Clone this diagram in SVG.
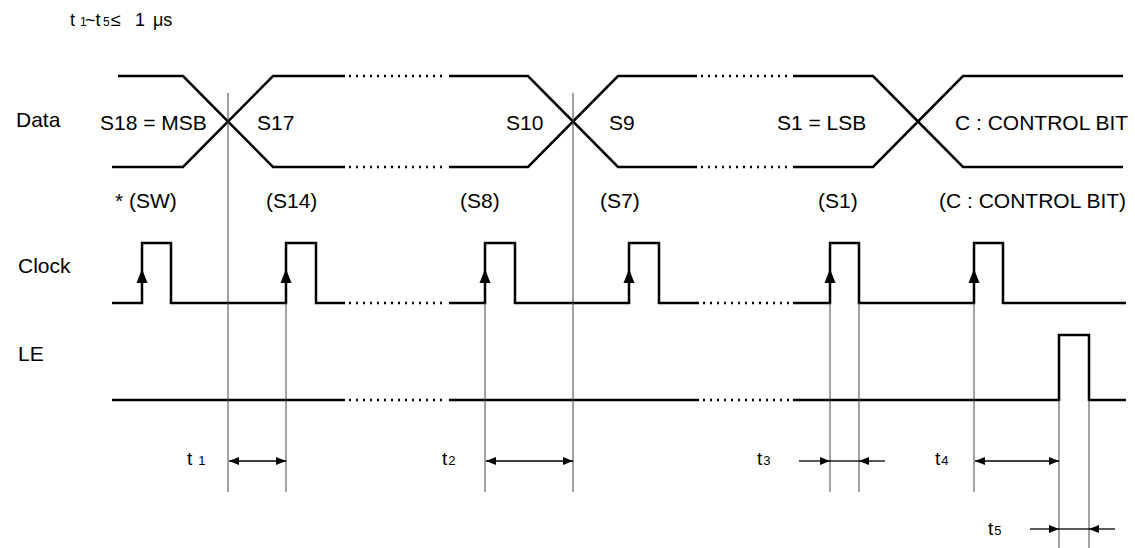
<svg xmlns="http://www.w3.org/2000/svg" width="1135" height="548" viewBox="0 0 1135 548">
<defs>
<style>
.w{fill:none;stroke:#000;stroke-width:2.5;stroke-linejoin:miter}
.d{fill:none;stroke:#000;stroke-width:2.5;stroke-dasharray:2 5}
.g{fill:none;stroke:#444;stroke-width:1}
.a{fill:none;stroke:#000;stroke-width:1.3}
.t{font-family:"Liberation Sans",Arial,sans-serif;font-size:21px;fill:#000}
.h{font-size:18px}
.hs{font-size:12px}
.tl{font-size:19px}
.ts{font-size:13px}
</style>
<marker id="ah" viewBox="0 0 10 8" refX="10" refY="4" markerWidth="10" markerHeight="8" markerUnits="userSpaceOnUse" orient="auto">
<path d="M0,0 L10,4 L0,8 Z" fill="#000"/>
</marker>
<marker id="ahs" viewBox="0 0 10 8" refX="10" refY="4" markerWidth="10" markerHeight="8" markerUnits="userSpaceOnUse" orient="auto-start-reverse">
<path d="M0,0 L10,4 L0,8 Z" fill="#000"/>
</marker>
</defs>
<rect width="1135" height="548" fill="#fff"/>

<g id="header">
<text class="t h" y="26"><tspan x="70">t</tspan><tspan class="hs" x="80">1</tspan><tspan x="85">~t</tspan><tspan class="hs" x="103">5</tspan><tspan x="111">≤</tspan><tspan x="135">1</tspan><tspan x="153">μs</tspan></text>
</g>

<g id="signal-labels">
<text class="t" x="16" y="127">Data</text>
<text class="t" x="18" y="273">Clock</text>
<text class="t" x="18" y="361">LE</text>
</g>

<g id="data-signal">
<path class="w" d="M118,76 H183 L273,167 H345 M112,167 H183 L273,76 H345"/>
<path class="w" d="M449,76 H528 L618,167 H697 M449,167 H528 L618,76 H697"/>
<path class="w" d="M793,76 H873 L963,167 H1123 M793,167 H873 L963,76 H1123"/>
<path class="d" d="M349,76 H447 M349,167 H447 M701,76 H791 M701,167 H791"/>
<text class="t" x="100" y="130">S18 = MSB</text>
<text class="t" x="257" y="130">S17</text>
<text class="t" x="506" y="130">S10</text>
<text class="t" x="609" y="130">S9</text>
<text class="t" x="777" y="130">S1 = LSB</text>
<text class="t" x="955" y="130">C : CONTROL BIT</text>
</g>

<g id="bit-labels">
<text class="t" x="115" y="208">* (SW)</text>
<text class="t" x="266" y="208">(S14)</text>
<text class="t" x="460" y="208">(S8)</text>
<text class="t" x="600" y="208">(S7)</text>
<text class="t" x="818" y="208">(S1)</text>
<text class="t" x="939" y="208">(C : CONTROL BIT)</text>
</g>

<g id="clock-signal">
<path class="w" d="M112,303 H142 V243 H171 V303 H286 V243 H316 V303 H345"/>
<path class="w" d="M449,303 H485 V243 H515 V303 H629 V243 H659 V303 H699"/>
<path class="w" d="M793,303 H830 V243 H859 V303 H974 V243 H1003 V303 H1126"/>
<path class="d" d="M349,303 H447 M703,303 H791"/>
<path fill="#000" d="M142,269 L136.5,283 H147.5 Z M286,269 L280.5,283 H291.5 Z M485,269 L479.5,283 H490.5 Z M629,269 L623.5,283 H634.5 Z M830,269 L824.5,283 H835.5 Z M974,269 L968.5,283 H979.5 Z"/>
</g>

<g id="le-signal">
<path class="w" d="M112,400 H345 M449,400 H699 M793,400 H1059 V335 H1089 V400 H1126"/>
<path class="d" d="M349,400 H447 M703,400 H791"/>
</g>

<g id="connectors">
<path class="g" d="M228,93 V492 M573,93 V492 M286,303 V492 M485,303 V492 M830,303 V492 M859,303 V492 M974,303 V492 M1059,400 V548 M1089,400 V548"/>
<path class="a" d="M229,461 H286" marker-start="url(#ahs)" marker-end="url(#ah)"/>
<path class="a" d="M486,461 H573" marker-start="url(#ahs)" marker-end="url(#ah)"/>
<path class="a" d="M799,461 H830" marker-end="url(#ah)"/>
<path class="a" d="M885,461 H859" marker-end="url(#ah)"/>
<path class="a" d="M830,461 H859"/>
<path class="a" d="M975,461 H1059" marker-start="url(#ahs)" marker-end="url(#ah)"/>
<path class="a" d="M1030,529 H1059" marker-end="url(#ah)"/>
<path class="a" d="M1115,529 H1089" marker-end="url(#ah)"/>
<path class="a" d="M1059,529 H1089"/>
</g>

<g id="timing-labels">
<text class="t tl" x="187" y="465">t<tspan class="ts" dx="6">1</tspan></text>
<text class="t tl" x="442" y="465">t<tspan class="ts" dx="1">2</tspan></text>
<text class="t tl" x="757" y="465">t<tspan class="ts" dx="1">3</tspan></text>
<text class="t tl" x="935" y="465">t<tspan class="ts" dx="1">4</tspan></text>
<text class="t tl" x="988" y="535">t<tspan class="ts" dx="1">5</tspan></text>
</g>
</svg>
